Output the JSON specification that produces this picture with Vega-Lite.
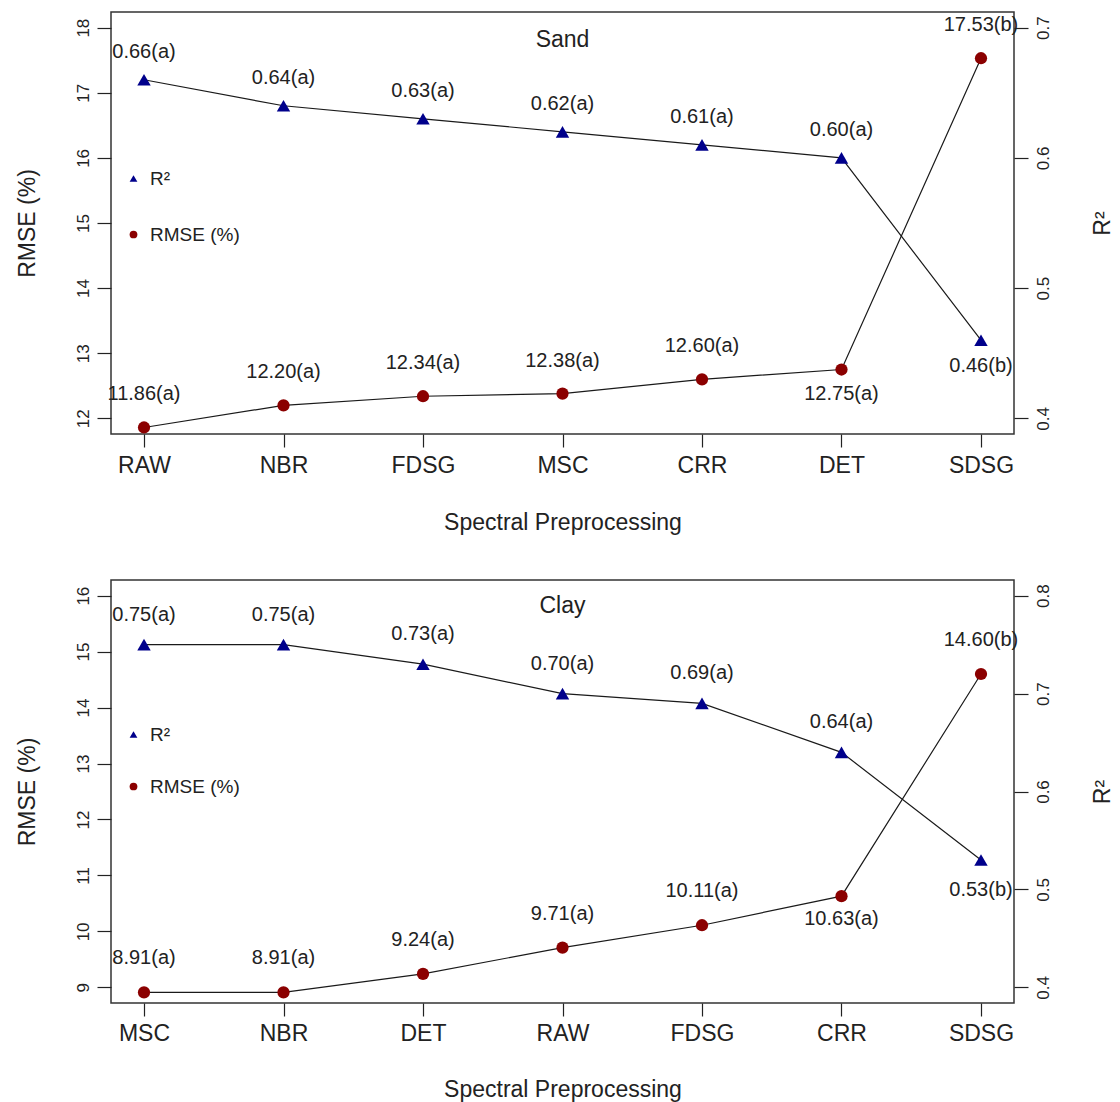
{
  "$schema": "https://vega.github.io/schema/vega-lite/v6.json",
  "padding": {"top": 11, "left": 15, "right": 2, "bottom": 0},
  "background": "white",
  "spacing": 44,
  "config": {
    "font": "Liberation Sans",
    "view": {"stroke": "#333333", "strokeWidth": 1.5},
    "axis": {"grid": false, "domain": false, "tickColor": "#222222", "tickWidth": 1.2, "labelColor": "#222222", "titleColor": "#222222", "titleFontWeight": "normal", "labelFont": "Liberation Sans", "titleFont": "Liberation Sans", "labelOverlap": false, "labelFlush": false, "labelBound": false},
    "title": {"font": "Liberation Sans", "fontWeight": "normal", "fontSize": 23, "color": "#222222"},
    "text": {"font": "Liberation Sans"},
    "legend": {"labelFont": "Liberation Sans", "labelFontSize": 19, "labelColor": "#222222", "symbolSize": 60, "labelOffset": 7, "padding": 0, "symbolStrokeWidth": 0, "symbolOpacity": 1}
  },
  "resolve": {"scale": {"color": "independent", "shape": "independent"}},
  "vconcat": [
    {
      "width": 903,
      "height": 422,
      "title": {"text": "Sand", "anchor": "middle", "frame": "group", "offset": -40, "baseline": "top"},
      "data": {"values": [
        {"method": "RAW", "rmse": 11.86, "rmse_label": "11.86(a)", "r2": 0.66, "r2_label": "0.66(a)"},
        {"method": "NBR", "rmse": 12.20, "rmse_label": "12.20(a)", "r2": 0.64, "r2_label": "0.64(a)"},
        {"method": "FDSG", "rmse": 12.34, "rmse_label": "12.34(a)", "r2": 0.63, "r2_label": "0.63(a)"},
        {"method": "MSC", "rmse": 12.38, "rmse_label": "12.38(a)", "r2": 0.62, "r2_label": "0.62(a)"},
        {"method": "CRR", "rmse": 12.60, "rmse_label": "12.60(a)", "r2": 0.61, "r2_label": "0.61(a)"},
        {"method": "DET", "rmse": 12.75, "rmse_label": "12.75(a)", "r2": 0.60, "r2_label": "0.60(a)"},
        {"method": "SDSG", "rmse": 17.53, "rmse_label": "17.53(b)", "r2": 0.46, "r2_label": "0.46(b)"}
      ]},
      "encoding": {
        "x": {"field": "method", "type": "nominal", "sort": ["RAW", "NBR", "FDSG", "MSC", "CRR", "DET", "SDSG"],
          "scale": {"type": "point", "padding": 0.2366},
          "axis": {"title": "Spectral Preprocessing", "labelAngle": 0, "labelFontSize": 23, "titleFontSize": 23, "tickSize": 13, "labelPadding": 7, "titlePadding": 34, "minExtent": 43, "maxExtent": 43}}
      },
      "layer": [
        {
          "encoding": {"y": {"field": "rmse", "type": "quantitative", "scale": {"domain": [11.76, 18.24], "nice": false, "zero": false},
            "axis": {"orient": "left", "title": "RMSE (%)", "values": [12, 13, 14, 15, 16, 17, 18], "format": "d", "labelAngle": 270, "labelAlign": "center", "labelBaseline": "bottom", "labelFontSize": 17, "labelPadding": 5, "tickSize": 14, "titleFontSize": 23, "titlePadding": 32, "minExtent": 40, "maxExtent": 40}}},
          "layer": [
            {"mark": {"type": "line", "color": "#1a1a1a", "strokeWidth": 1.2}},
            {"mark": {"type": "point", "filled": true, "opacity": 1, "size": 150},
              "encoding": {
                "color": {"datum": "RMSE (%)", "scale": {"domain": ["R²", "RMSE (%)"], "range": ["#00008B", "#8B0000"]}, "legend": {"orient": "none", "legendX": 13, "legendY": 157, "title": null, "rowPadding": 36}},
                "shape": {"datum": "RMSE (%)", "scale": {"domain": ["R²", "RMSE (%)"], "range": ["triangle-up", "circle"]}, "legend": {"orient": "none", "legendX": 13, "legendY": 157, "title": null, "rowPadding": 36}}
              }},
            {"transform": [{"filter": "datum.method != 'DET'"}], "mark": {"type": "text", "dy": -33, "fontSize": 20, "color": "#222222"}, "encoding": {"text": {"field": "rmse_label"}}},
            {"transform": [{"filter": "datum.method == 'DET'"}], "mark": {"type": "text", "dy": 24, "fontSize": 20, "color": "#222222"}, "encoding": {"text": {"field": "rmse_label"}}}
          ]
        },
        {
          "encoding": {"y": {"field": "r2", "type": "quantitative", "scale": {"domain": [0.388, 0.712], "nice": false, "zero": false},
            "axis": {"orient": "right", "title": "R²", "values": [0.4, 0.5, 0.6, 0.7], "format": ".1f", "labelAngle": 270, "labelAlign": "center", "labelBaseline": "top", "labelFontSize": 17, "labelPadding": 7, "tickSize": 14, "titleAngle": 270, "titleBaseline": "top", "titleFontSize": 23, "titlePadding": 37, "minExtent": 40, "maxExtent": 40}}},
          "layer": [
            {"mark": {"type": "line", "color": "#1a1a1a", "strokeWidth": 1.2}},
            {"mark": {"type": "point", "filled": true, "opacity": 1, "size": 180},
              "encoding": {
                "color": {"datum": "R²", "scale": {"domain": ["R²", "RMSE (%)"], "range": ["#00008B", "#8B0000"]}, "legend": {"orient": "none", "legendX": 13, "legendY": 157, "title": null, "rowPadding": 36}},
                "shape": {"datum": "R²", "scale": {"domain": ["R²", "RMSE (%)"], "range": ["triangle-up", "circle"]}, "legend": {"orient": "none", "legendX": 13, "legendY": 157, "title": null, "rowPadding": 36}}
              }},
            {"transform": [{"filter": "datum.method != 'SDSG'"}], "mark": {"type": "text", "dy": -28, "fontSize": 20, "color": "#222222"}, "encoding": {"text": {"field": "r2_label"}}},
            {"transform": [{"filter": "datum.method == 'SDSG'"}], "mark": {"type": "text", "dy": 26, "fontSize": 20, "color": "#222222"}, "encoding": {"text": {"field": "r2_label"}}}
          ]
        }
      ],
      "resolve": {"scale": {"y": "independent"}}
    },
    {
      "width": 903,
      "height": 423,
      "title": {"text": "Clay", "anchor": "middle", "frame": "group", "offset": -38, "baseline": "top"},
      "data": {"values": [
        {"method": "MSC", "rmse": 8.91, "rmse_label": "8.91(a)", "r2": 0.75, "r2_label": "0.75(a)"},
        {"method": "NBR", "rmse": 8.91, "rmse_label": "8.91(a)", "r2": 0.75, "r2_label": "0.75(a)"},
        {"method": "DET", "rmse": 9.24, "rmse_label": "9.24(a)", "r2": 0.73, "r2_label": "0.73(a)"},
        {"method": "RAW", "rmse": 9.71, "rmse_label": "9.71(a)", "r2": 0.70, "r2_label": "0.70(a)"},
        {"method": "FDSG", "rmse": 10.11, "rmse_label": "10.11(a)", "r2": 0.69, "r2_label": "0.69(a)"},
        {"method": "CRR", "rmse": 10.63, "rmse_label": "10.63(a)", "r2": 0.64, "r2_label": "0.64(a)"},
        {"method": "SDSG", "rmse": 14.60, "rmse_label": "14.60(b)", "r2": 0.53, "r2_label": "0.53(b)"}
      ]},
      "encoding": {
        "x": {"field": "method", "type": "nominal", "sort": ["MSC", "NBR", "DET", "RAW", "FDSG", "CRR", "SDSG"],
          "scale": {"type": "point", "padding": 0.2366},
          "axis": {"title": "Spectral Preprocessing", "labelAngle": 0, "labelFontSize": 23, "titleFontSize": 23, "tickSize": 13, "labelPadding": 6, "titlePadding": 32, "minExtent": 43, "maxExtent": 43}}
      },
      "layer": [
        {
          "encoding": {"y": {"field": "rmse", "type": "quantitative", "scale": {"domain": [8.72, 16.28], "nice": false, "zero": false},
            "axis": {"orient": "left", "title": "RMSE (%)", "values": [9, 10, 11, 12, 13, 14, 15, 16], "format": "d", "labelAngle": 270, "labelAlign": "center", "labelBaseline": "bottom", "labelFontSize": 17, "labelPadding": 5, "tickSize": 14, "titleFontSize": 23, "titlePadding": 32, "minExtent": 40, "maxExtent": 40}}},
          "layer": [
            {"mark": {"type": "line", "color": "#1a1a1a", "strokeWidth": 1.2}},
            {"mark": {"type": "point", "filled": true, "opacity": 1, "size": 150},
              "encoding": {
                "color": {"datum": "RMSE (%)", "scale": {"domain": ["R²", "RMSE (%)"], "range": ["#00008B", "#8B0000"]}, "legend": {"orient": "none", "legendX": 13, "legendY": 145, "title": null, "rowPadding": 32}},
                "shape": {"datum": "RMSE (%)", "scale": {"domain": ["R²", "RMSE (%)"], "range": ["triangle-up", "circle"]}, "legend": {"orient": "none", "legendX": 13, "legendY": 145, "title": null, "rowPadding": 32}}
              }},
            {"transform": [{"filter": "datum.method != 'CRR'"}], "mark": {"type": "text", "dy": -34, "fontSize": 20, "color": "#222222"}, "encoding": {"text": {"field": "rmse_label"}}},
            {"transform": [{"filter": "datum.method == 'CRR'"}], "mark": {"type": "text", "dy": 23, "fontSize": 20, "color": "#222222"}, "encoding": {"text": {"field": "rmse_label"}}}
          ]
        },
        {
          "encoding": {"y": {"field": "r2", "type": "quantitative", "scale": {"domain": [0.384, 0.816], "nice": false, "zero": false},
            "axis": {"orient": "right", "title": "R²", "values": [0.4, 0.5, 0.6, 0.7, 0.8], "format": ".1f", "labelAngle": 270, "labelAlign": "center", "labelBaseline": "top", "labelFontSize": 17, "labelPadding": 7, "tickSize": 14, "titleAngle": 270, "titleBaseline": "top", "titleFontSize": 23, "titlePadding": 37, "minExtent": 40, "maxExtent": 40}}},
          "layer": [
            {"mark": {"type": "line", "color": "#1a1a1a", "strokeWidth": 1.2}},
            {"mark": {"type": "point", "filled": true, "opacity": 1, "size": 180},
              "encoding": {
                "color": {"datum": "R²", "scale": {"domain": ["R²", "RMSE (%)"], "range": ["#00008B", "#8B0000"]}, "legend": {"orient": "none", "legendX": 13, "legendY": 145, "title": null, "rowPadding": 32}},
                "shape": {"datum": "R²", "scale": {"domain": ["R²", "RMSE (%)"], "range": ["triangle-up", "circle"]}, "legend": {"orient": "none", "legendX": 13, "legendY": 145, "title": null, "rowPadding": 32}}
              }},
            {"transform": [{"filter": "datum.method != 'SDSG'"}], "mark": {"type": "text", "dy": -30, "fontSize": 20, "color": "#222222"}, "encoding": {"text": {"field": "r2_label"}}},
            {"transform": [{"filter": "datum.method == 'SDSG'"}], "mark": {"type": "text", "dy": 30, "fontSize": 20, "color": "#222222"}, "encoding": {"text": {"field": "r2_label"}}}
          ]
        }
      ],
      "resolve": {"scale": {"y": "independent"}}
    }
  ]
}
